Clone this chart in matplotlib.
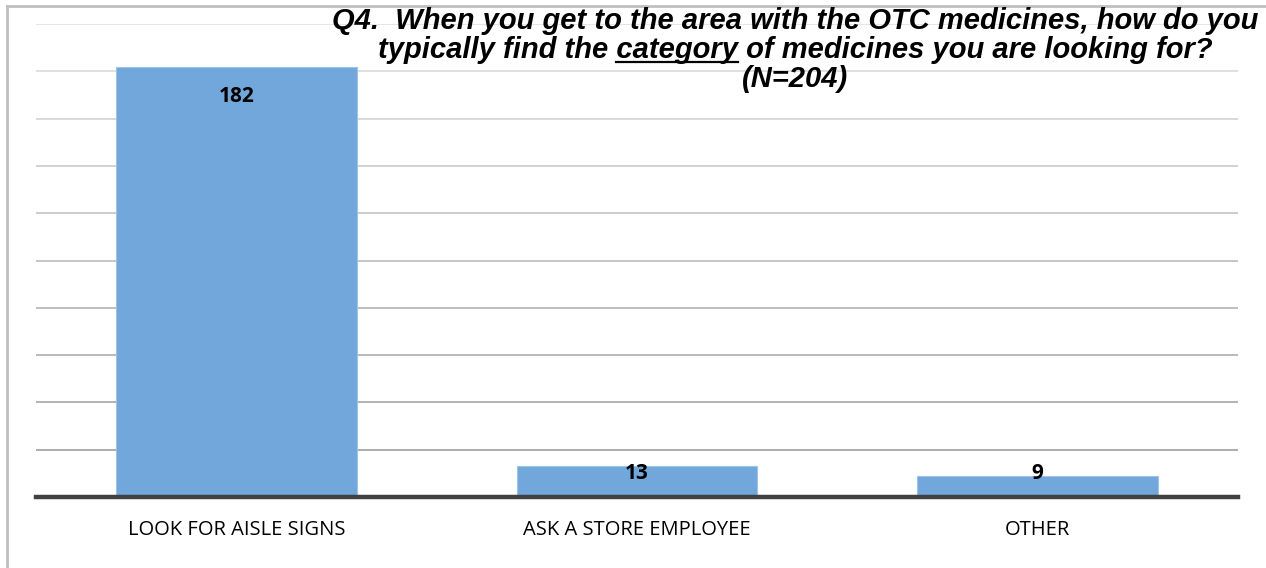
import matplotlib.pyplot as plt
from matplotlib.lines import Line2D
from matplotlib.colors import to_hex

categories = ["LOOK FOR AISLE SIGNS", "ASK A STORE EMPLOYEE", "OTHER"]
counts = [182, 13, 9]
y_ticks = [20, 40, 60, 80, 100, 120, 140, 160, 180, 200]

title_lines = [
    "Q4.  When you get to the area with the OTC medicines, how do you",
    "typically find the category of medicines you are looking for?",
    "(N=204)",
]
underlined_word = "category"

W, H = 1266, 568
fig = plt.figure(figsize=(W / 100, H / 100), dpi=100)
ax = fig.add_axes([36 / W, 1 - 497 / H, (1238 - 36) / W, (497 - 24) / H])

x = range(len(categories))
ax.bar(x, counts, width=0.6, color="#71A7DA", edgecolor="#9DC3E8", linewidth=0.8, zorder=2)

ax.set_xlim(-0.5, len(categories) - 0.5)
ax.set_ylim(0, 200)

# gridlines fade from dark grey near the base to light grey at the top
for y in y_ticks:
    f = (y - 20) / 180
    g = 0.65 + f * (0.89 - 0.65)
    ax.axhline(y, color=to_hex((g, g, g)), linewidth=1.3, zorder=0)

ax.tick_params(axis="y", left=False, labelleft=False)
ax.tick_params(axis="x", bottom=False, pad=13)
ax.set_xticks(list(x))
ax.set_xticklabels(categories, fontsize=14.5, family=["Open Sans", "DejaVu Sans"], color="#000000")
for side in ["left", "right", "top"]:
    ax.spines[side].set_visible(False)
ax.spines["bottom"].set_color("#404040")
ax.spines["bottom"].set_linewidth(3.2)
ax.spines["bottom"].set_zorder(3)

# value labels, pushed inside the tall bar and nudged for the short ones
label_dy = [-30, -7, 2]
for i, v in enumerate(counts):
    ax.annotate(str(v), (i, v), xytext=(0, label_dy[i] * 0.72), textcoords="offset points",
                ha="center", va="center", fontsize=15, fontweight="bold",
                family=["Open Sans", "DejaVu Sans"], color="#000000", zorder=4)

# three-line italic title, centred over the right part of the plot
title_font = dict(fontsize=21, fontweight="bold", fontstyle="italic",
                  family=["Liberation Sans Narrow", "Liberation Sans", "DejaVu Sans"])
cx = 795 / W
line_y = [21, 50, 79]
texts = []
for line, ly in zip(title_lines, line_y):
    t = fig.text(cx, 1 - ly / H, line, ha="center", va="center", color="#000000", **title_font)
    texts.append(t)

# underline the keyword in the second line
fig.canvas.draw()
r = fig.canvas.get_renderer()
bb = texts[1].get_window_extent(r)
prefix = title_lines[1].split(underlined_word)[0]
tmp = fig.text(0, 0, prefix + underlined_word, **title_font)
w_full = tmp.get_window_extent(r).width
tmp.set_text(prefix + "x")
w_pre_x = tmp.get_window_extent(r).width
tmp.set_text("x")
w_x = tmp.get_window_extent(r).width
tmp.remove()
x0 = bb.x0 + (w_pre_x - w_x)
x1 = bb.x0 + w_full
uy = bb.y0 + 2
fig.add_artist(Line2D([x0 / W, x1 / W], [uy / H, uy / H], color="#000000", linewidth=1.6))

# chart frame: top and left edges
fig.add_artist(Line2D([6.5 / W, 1.0], [1 - 5.5 / H, 1 - 5.5 / H], color="#C0C0C0", linewidth=2))
fig.add_artist(Line2D([6.5 / W, 6.5 / W], [0, 1 - 5.5 / H], color="#C0C0C0", linewidth=2))

fig.savefig("out.png", dpi=100, facecolor="white")
